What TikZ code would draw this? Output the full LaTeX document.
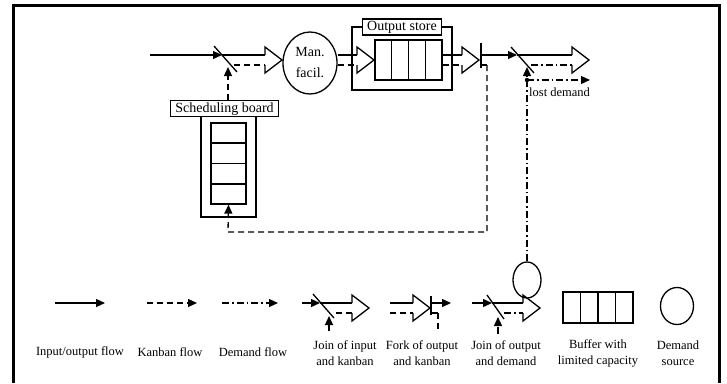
\documentclass[tikz,border=0pt]{standalone}
\usepackage{fontspec}
\setmainfont{Liberation Serif}
\usetikzlibrary{arrows.meta,shapes.geometric,calc}

\tikzset{
  io/.style={line width=1.3pt},
  kanban/.style={line width=1.3pt, dash pattern=on 6pt off 4pt},
  dmd/.style={line width=1.3pt, dash pattern=on 7pt off 3pt on 1.5pt off 3pt},
  flowtip/.style={-{Triangle[length=9pt,width=8pt]}},
  lbl/.style={draw, line width=1.3pt, inner xsep=5pt, inner ysep=1.5pt,
    text height=10pt, text depth=3pt, font=\fontsize{14}{16}\selectfont},
  legtxt/.style={align=center, font=\fontsize{12.5}{16}\selectfont},
}
% open block arrow: x of barbs, upper and lower shaft line
\newcommand\hollowarrow[3]{%
  \draw[io] (#1,#2) -- (#1,#2-8) -- ({#1+17},{(#2+#3)/2}) -- (#1,#3+8) -- (#1,#3);}

\begin{document}
\begin{tikzpicture}[x=1pt,y=-1pt]
\useasboundingbox (0,0) rectangle (727,383);
\draw[line width=3pt] (13,383) -- (13,5) -- (719,5) -- (719,383);

% main line
\coordinate (in) at (150,55);
\coordinate (j1) at (222,55);
\coordinate (h1) at (265,55);
\coordinate (h1k) at (265,65);
\coordinate (k1s) at (234,65);
\coordinate (kup) at (228,67);
\node[ellipse, draw, io, minimum width=54pt, minimum height=62pt, inner sep=0pt,
  align=center, font=\fontsize{14}{21}\selectfont] (facil) at (310,63) {Man.\\facil.};
\draw[io,flowtip] (in) -- (j1);
\draw[io] (j1) -- (h1);
\draw[io] (214,46) -- (237,72);
\draw[kanban] (k1s) -- (h1k);
\hollowarrow{265}{55}{65}

% scheduling board
\node[lbl] (boardlbl) at (224.5,108.5) {Scheduling board};
\node[draw, io, minimum width=35pt, minimum height=81pt, inner sep=0pt] (board) at (228.5,163.5) {};
\foreach \i in {1,2,3}
  \draw[io] ($(board.north west)!\i/4!(board.south west)$) -- ($(board.north east)!\i/4!(board.south east)$);
\coordinate (bfl) at (201,217);
\coordinate (bfr) at (256,217);
\draw[io] (bfl |- boardlbl.south) -- (bfl) -- (bfr) -- (bfr |- boardlbl.south);
\draw[kanban,flowtip] (kup |- boardlbl.north) -- (kup);

% output store
\coordinate (h2) at (357,55);
\coordinate (h2k) at (357,65);
\draw[io] (facil.east |- h2) -- (h2);
\draw[kanban] (facil.east |- h2k) -- (h2k);
\hollowarrow{357}{55}{65}
\node[draw, io, minimum width=67pt, minimum height=40pt, inner sep=0pt] (store) at (408.5,60) {};
\foreach \i in {1,2,3}
  \draw[io] ($(store.north west)!\i/4!(store.north east)$) -- ($(store.south west)!\i/4!(store.south east)$);
\node[lbl] (storelbl) at (402,27) {Output store};
\coordinate (sfl) at (352,90);
\coordinate (sfr) at (452,90);
\draw[io] (storelbl.west) -- (sfl |- storelbl.west) -- (sfl) -- (sfr) -- (sfr |- storelbl.east) -- (storelbl.east);

% fork of output and kanban
\coordinate (h3) at (462,55);
\coordinate (h3k) at (462,65);
\coordinate (fork) at (481,55);
\coordinate (forkk) at (487,65);
\coordinate (kret1) at (487,232);
\coordinate (kret2) at (228,232);
\draw[io] (store.east |- h3) -- (h3);
\draw[kanban] (store.east |- h3k) -- (h3k);
\hollowarrow{462}{55}{65}
\draw[io] (481,43) -- (481,68);
\draw[io] (fork |- forkk) -- (forkk);
\draw[kanban,flowtip] (forkk) -- (kret1) -- (kret2) -- (board.south);

% join of output and demand
\coordinate (j2) at (517,55);
\coordinate (h4) at (572,55);
\coordinate (h4d) at (572,65);
\coordinate (d2s) at (531,65);
\coordinate (dup) at (527,67);
\coordinate (dot) at (527,80);
\coordinate (lost) at (590,80);
\draw[io,flowtip] (fork) -- (j2);
\draw[io] (j2) -- (h4);
\draw[io] (511,47) -- (534,73);
\draw[dmd] (d2s) -- (h4d);
\hollowarrow{572}{55}{65}
\node[ellipse, draw, io, minimum width=28pt, minimum height=36pt] (demand) at (527,280) {};
\draw[dmd,flowtip] (demand.north) -- (dup);
\fill (dot) circle (2.2pt);
\draw[dmd,flowtip] (dot) -- (lost);
\node[anchor=west, inner sep=1pt, font=\fontsize{12.5}{14}\selectfont] (lostlbl) at (528,92) {lost demand};

% legend
\draw[io,flowtip] (55,303) -- (105,303);
\draw[kanban,flowtip] (147,303) -- (197,303);
\draw[dmd,flowtip] (222,303) -- (278,303);

\draw[io,flowtip] (302,303) -- (320,303);
\draw[io] (320,303) -- (352,303);
\draw[io] (313,294) -- (334,318);
\draw[kanban] (336,313) -- (352,313);
\hollowarrow{352}{303}{313}
\draw[kanban,flowtip] (329,331) -- (329,316);

\draw[io] (390,303) -- (413,303);
\draw[kanban] (390,313) -- (413,313);
\hollowarrow{413}{303}{313}
\draw[io] (431,296) -- (431,315);
\draw[io,flowtip] (431,303) -- (451,303);
\draw[io] (431,313) -- (438,313);
\draw[kanban] (438,313) -- (438,329);

\draw[io,flowtip] (472,303) -- (492,303);
\draw[io] (492,303) -- (523,303);
\draw[io] (487,295) -- (504,319);
\draw[dmd] (504,313) -- (523,313);
\hollowarrow{523}{303}{313}
\draw[dmd,flowtip] (498,334) -- (498,317);

\node[draw, io, minimum width=70pt, minimum height=31pt, inner sep=0pt] (legbuf) at (598,307.5) {};
\foreach \i in {1,2,3}
  \draw[io] ($(legbuf.north west)!\i/4!(legbuf.north east)$) -- ($(legbuf.south west)!\i/4!(legbuf.south east)$);
\node[ellipse, draw, io, minimum width=33pt, minimum height=37pt] (legsrc) at (677,306) {};

\node[legtxt] (t1) at (80,352) {Input/output flow};
\node[legtxt] (t2) at (170,352) {Kanban flow};
\node[legtxt] (t3) at (253,352) {Demand flow};
\node[legtxt] (t4) at (345,353) {Join of input\\and kanban};
\node[legtxt] (t5) at (422,353) {Fork of output\\and kanban};
\node[legtxt] (t6) at (506,353) {Join of output\\and demand};
\node[legtxt] (t7) at (598,353) {Buffer with\\limited capacity};
\node[legtxt] (t8) at (678,353) {Demand\\source};
\end{tikzpicture}
\end{document}
